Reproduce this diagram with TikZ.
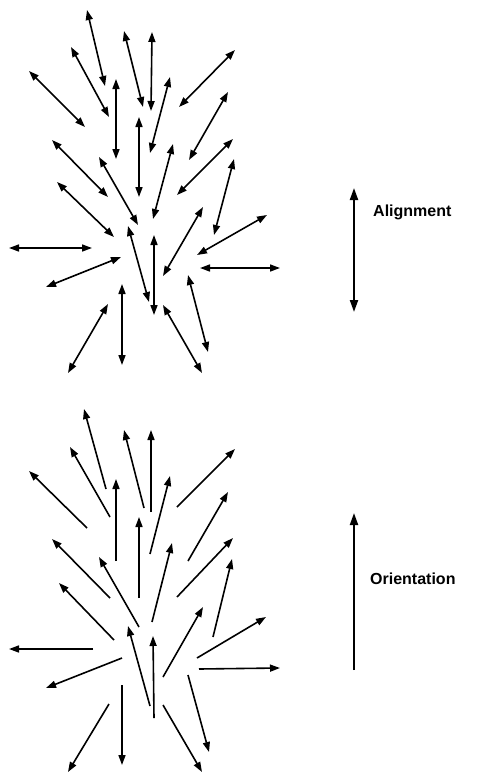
\documentclass[tikz,border=0pt]{standalone}
\usepackage{fontspec}
\setmainfont{Liberation Sans}
\usetikzlibrary{arrows.meta}
\begin{document}
\begin{tikzpicture}[x=1pt,y=-1pt,
  vec/.style={line width=1.6pt,-{Triangle[length=10pt,width=7pt]}},
  dvec/.style={line width=1.6pt,{Triangle[length=10pt,width=7pt]}-{Triangle[length=10pt,width=7pt]}},
  bigvec/.style={line width=2pt,-{Triangle[length=12pt,width=8pt]}},
  bigdvec/.style={line width=2pt,{Triangle[length=12pt,width=8pt]}-{Triangle[length=12pt,width=8pt]}},
  lbl/.style={font=\bfseries\fontsize{16}{18}\selectfont,anchor=west,inner sep=0pt}]
\useasboundingbox (0,0) rectangle (488,774);
% Alignment cluster (double-headed)
\foreach \a/\b/\c/\d in {87/10/105/86,124/31/143/107,152/32/151/111,71/47/109/117,29/71/85/127,
  235/50/179/107,116/79/116/159,170/77/150/153,228/92/189/160,139/117/139/197,
  52/140/108/197,99/157/138/225,173/144/153/219,233/139/177/195,234/159/214/235,
  57/182/114/237,9/248/92/248,121/257/46/287,128/226/149/302,154/235/154/315,
  203/207/163/276,267/215/197/255,200/268/280/268,188/275/208/352,122/284/122/365,
  108/304/68/373,163/305/202/373}
  \draw[dvec] (\a,\b) -- (\c,\d);
% Orientation cluster (single-headed)
\foreach \a/\b/\c/\d in {106/489/84/409,144/508/124/430,151/512/151/430,110/517/70/447,87/528/29/471,
  177/507/235/449,116/561/116/479,150/554/170/476,188/561/228/492,139/598/139/517,
  110/598/52/539,139/627/99/557,152/622/172/543,177/597/233/538,213/637/232/559,
  114/640/59/583,93/649/9/649,122/658/46/688,150/706/128/626,154/718/153/636,
  163/677/203/607,197/658/266/617,199/669/280/668,188/675/209/752,122/685/122/765,
  109/704/68/772,163/705/202/772}
  \draw[vec] (\a,\b) -- (\c,\d);
% legend
\draw[bigdvec] (354,188) -- (354,312);
\node[lbl] (al) at (373,212) {Alignment};
\draw[bigvec] (354,670) -- (354,513);
\node[lbl] (or) at (370,579) {Orientation};
\end{tikzpicture}
\end{document}
